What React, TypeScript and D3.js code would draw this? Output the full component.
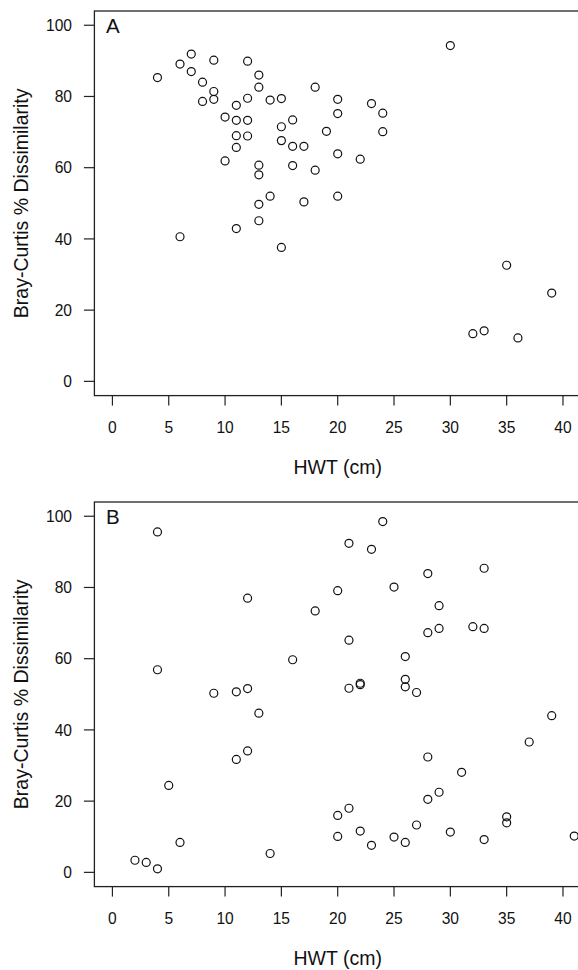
import React from "react";
import * as d3 from "d3";

// HWT (cm) and Bray-Curtis % dissimilarity
const hwtA = [4, 6, 7, 7, 8, 8, 9, 9, 9, 10, 10, 11, 11, 11, 11, 11, 12, 12, 12, 12, 13, 13, 13, 13, 13, 13, 14, 14, 15, 15, 15, 15, 16, 16, 16, 17, 17, 18, 18, 19, 20, 20, 20, 20, 22, 23, 24, 24, 30, 32, 33, 35, 36, 39, 6];
const brayA = [85.3, 89.1, 91.9, 87.0, 84.0, 78.6, 90.2, 81.4, 79.2, 74.2, 61.9, 77.5, 73.3, 69.0, 65.7, 42.9, 89.9, 79.5, 73.3, 68.9, 86.0, 82.6, 60.7, 58.0, 49.7, 45.1, 79.0, 52.0, 79.4, 71.5, 67.6, 37.6, 73.4, 66.0, 60.6, 66.0, 50.4, 82.6, 59.3, 70.2, 79.2, 75.2, 63.9, 52.0, 62.4, 78.0, 75.3, 70.1, 94.3, 13.4, 14.2, 32.6, 12.2, 24.8, 40.6];

const hwtB = [2, 3, 4, 4, 4, 5, 6, 9, 11, 11, 12, 12, 12, 13, 14, 16, 18, 20, 20, 20, 21, 21, 21, 21, 22, 22, 22, 23, 23, 24, 25, 25, 26, 26, 26, 26, 27, 27, 28, 28, 28, 28, 29, 29, 29, 30, 31, 32, 33, 33, 33, 35, 35, 37, 39, 41];
const brayB = [3.4, 2.8, 1.0, 56.9, 95.6, 24.4, 8.4, 50.3, 50.7, 31.7, 77.0, 51.6, 34.1, 44.7, 5.3, 59.7, 73.4, 79.1, 16.0, 10.1, 92.4, 65.2, 51.7, 18.0, 53.1, 52.7, 11.6, 90.7, 7.6, 98.5, 80.1, 9.9, 60.6, 54.2, 52.1, 8.4, 50.5, 13.3, 83.9, 67.3, 32.4, 20.5, 74.9, 68.5, 22.5, 11.3, 28.1, 69.0, 85.4, 68.5, 9.2, 15.6, 13.9, 36.6, 44.0, 10.2];

const panels = [
  { label: "A", xs: hwtA, ys: brayA },
  { label: "B", xs: hwtB, ys: brayB },
];

const W = 578, H = 970;
const left = 94.4, right = 581, top = 11, bottom = 395.6;
const panelStep = 491;
const font = "'Liberation Sans', Arial, Helvetica, sans-serif";

const x = d3.scaleLinear().domain([-1.6, 41.6]).range([left, right]);
const y = d3.scaleLinear().domain([-4, 104]).range([bottom, top]);

function Panel({ label, xs, ys, dy }: { label: string; xs: number[]; ys: number[]; dy: number }) {
  const xt = x.ticks(8);
  const yt = y.ticks(5);
  return (
    <g transform={`translate(0,${dy})`} fontFamily={font} fill="#111">
      <rect x={left} y={top} width={right - left} height={bottom - top} fill="none" stroke="#222" strokeWidth={1.3} />
      {xt.map(t => (
        <g key={"x" + t}>
          <line x1={x(t)} x2={x(t)} y1={bottom} y2={bottom + 10} stroke="#222" strokeWidth={1.2} />
          <text x={x(t)} y={433} textAnchor="middle" fontSize={15.6}>{t}</text>
        </g>
      ))}
      {yt.map(t => (
        <g key={"y" + t}>
          <line x1={left - 10.5} x2={left} y1={y(t)} y2={y(t)} stroke="#222" strokeWidth={1.2} />
          <text x={72} y={y(t)} dy="0.36em" textAnchor="end" fontSize={15.6}>{t}</text>
        </g>
      ))}
      <text x={(left + right) / 2} y={474} textAnchor="middle" fontSize={19.5}>HWT (cm)</text>
      <text transform={`translate(28,${(top + bottom) / 2}) rotate(-90)`} textAnchor="middle" fontSize={19.5}>
        Bray-Curtis % Dissimilarity
      </text>
      <text x={106} y={33.3} fontSize={20.5}>{label}</text>
      {xs.map((v, i) => (
        <circle key={i} cx={x(v)} cy={y(ys[i])} r={4} fill="none" stroke="#111" strokeWidth={1.2} />
      ))}
    </g>
  );
}

export default function App() {
  return (
    <svg width={W} height={H} style={{ position: "absolute", left: 0, top: 0, background: "#fff" }}>
      {panels.map((p, i) => (
        <Panel key={p.label} label={p.label} xs={p.xs} ys={p.ys} dy={i * panelStep} />
      ))}
    </svg>
  );
}
